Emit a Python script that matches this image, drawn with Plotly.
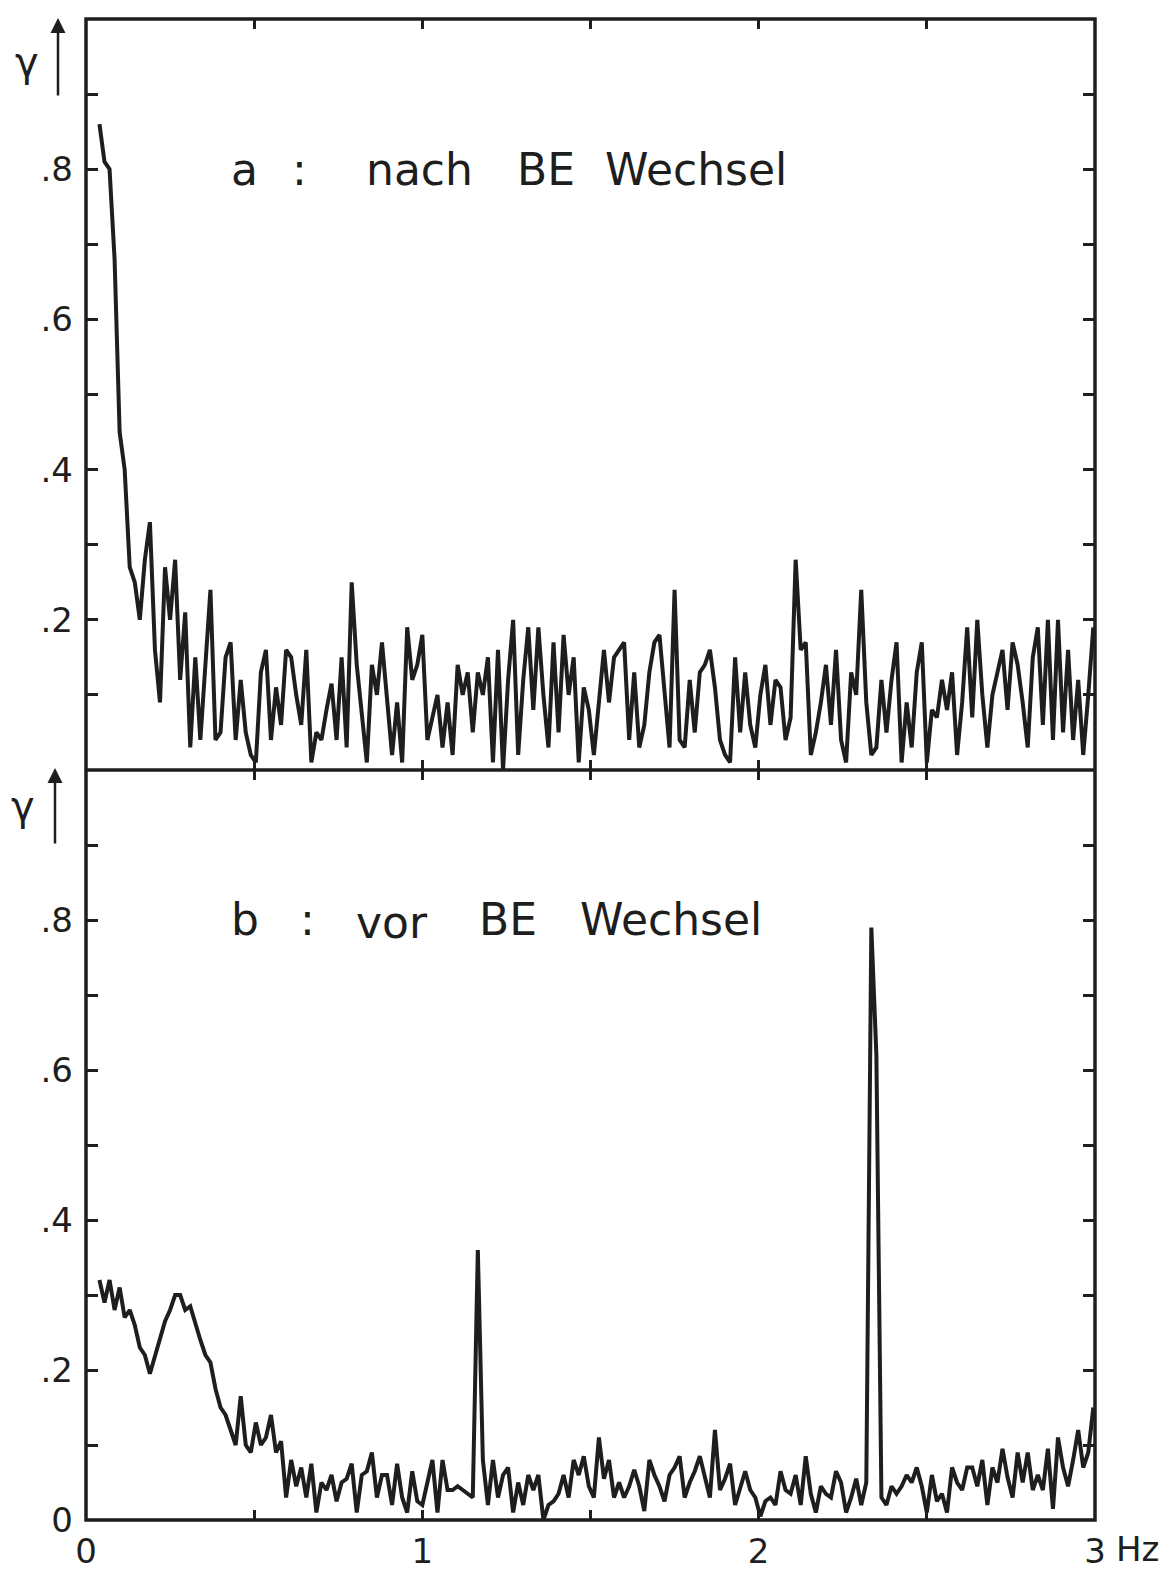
import numpy as np
import plotly.graph_objects as go
from plotly.subplots import make_subplots

# ---------------- data ----------------
f_start = 0.04      # Hz, first sample
f_step = 0.015      # Hz, sample spacing

# panel a: nach BE Wechsel
coh_a = [
    # 0.04 .. 0.295
    0.86, 0.81, 0.80, 0.68, 0.45, 0.40, 0.27, 0.25, 0.20, 0.28,
    0.33, 0.16, 0.09, 0.27, 0.20, 0.28, 0.12, 0.21,
    # 0.31 .. 0.595
    0.03, 0.15, 0.04, 0.15, 0.24, 0.04, 0.05, 0.15, 0.17, 0.04,
    0.12, 0.05, 0.02, 0.01, 0.13, 0.16, 0.04, 0.11, 0.06, 0.16,
    # 0.61 .. 1.825
    0.15, 0.10, 0.06, 0.16, 0.01, 0.05, 0.04, 0.08, 0.115, 0.04,
    0.15, 0.03, 0.25, 0.14, 0.08, 0.01, 0.14, 0.10, 0.17, 0.09,
    0.02, 0.09, 0.01, 0.19, 0.12, 0.14, 0.18, 0.04, 0.07, 0.10,
    0.03, 0.09, 0.02, 0.14, 0.10, 0.13, 0.05, 0.13, 0.10, 0.15,
    0.01, 0.16, 0.00, 0.12, 0.20, 0.02, 0.12, 0.19, 0.08, 0.19,
    0.10, 0.03, 0.17, 0.05, 0.18, 0.10, 0.15, 0.01, 0.11, 0.08,
    0.02, 0.09, 0.16, 0.09, 0.15, 0.16, 0.17, 0.04, 0.13, 0.03,
    0.06, 0.13, 0.17, 0.18, 0.11, 0.03, 0.24, 0.04, 0.03, 0.12,
    0.05, 0.13,
    # 1.84 .. 2.995
    0.14, 0.16, 0.11, 0.04, 0.02, 0.01, 0.15, 0.05, 0.13, 0.06,
    0.03, 0.10, 0.14, 0.06, 0.12, 0.11, 0.04, 0.07, 0.28, 0.16,
    0.17, 0.02, 0.05, 0.09, 0.14, 0.06, 0.16, 0.04, 0.01, 0.13,
    0.10, 0.24, 0.09, 0.02, 0.03, 0.12, 0.05, 0.12, 0.17, 0.01,
    0.09, 0.03, 0.13, 0.17, 0.01, 0.08, 0.07, 0.12, 0.08, 0.13,
    0.02, 0.09, 0.19, 0.07, 0.20, 0.10, 0.03, 0.10, 0.13, 0.16,
    0.08, 0.17, 0.14, 0.09, 0.03, 0.15, 0.19, 0.06, 0.20, 0.04,
    0.20, 0.05, 0.16, 0.04, 0.12, 0.02, 0.10, 0.19,
]

# panel b: vor BE Wechsel
coh_b = [
    # 0.04 .. 1.24
    0.32, 0.29, 0.32, 0.28, 0.31, 0.27, 0.28, 0.26, 0.23, 0.22,
    0.195, 0.22, 0.245, 0.265, 0.28, 0.30, 0.30, 0.28, 0.285, 0.26,
    0.24, 0.22, 0.21, 0.175, 0.15, 0.14, 0.12, 0.10, 0.165, 0.10,
    0.09, 0.13, 0.10, 0.11, 0.14, 0.09, 0.105, 0.03, 0.08, 0.045,
    0.07, 0.03, 0.075, 0.01, 0.05, 0.04, 0.06, 0.025, 0.05, 0.055,
    0.075, 0.01, 0.06, 0.065, 0.09, 0.03, 0.06, 0.06, 0.02, 0.075,
    0.03, 0.01, 0.065, 0.025, 0.02, 0.05, 0.08, 0.01, 0.08, 0.04,
    0.04, 0.045, 0.04, 0.035, 0.03, 0.36, 0.08, 0.02, 0.08, 0.03,
    0.06,
    # 1.255 .. 2.365
    0.07, 0.01, 0.05, 0.02, 0.06, 0.04, 0.06, 0.00, 0.02, 0.025,
    0.035, 0.06, 0.03, 0.08, 0.06, 0.085, 0.045, 0.03, 0.11, 0.055,
    0.08, 0.03, 0.05, 0.03, 0.045, 0.067, 0.045, 0.012, 0.08, 0.06,
    0.045, 0.025, 0.06, 0.07, 0.085, 0.03, 0.05, 0.065, 0.085, 0.06,
    0.03, 0.12, 0.04, 0.055, 0.075, 0.02, 0.045, 0.065, 0.04, 0.03,
    0.005, 0.025, 0.03, 0.02, 0.065, 0.04, 0.035, 0.06, 0.02, 0.085,
    0.035, 0.01, 0.045, 0.035, 0.03, 0.065, 0.05, 0.01, 0.03, 0.055,
    0.02, 0.05, 0.79, 0.62, 0.03,
    # 2.38 .. 2.995
    0.02, 0.045, 0.035, 0.045, 0.06, 0.05, 0.07, 0.045, 0.01, 0.06,
    0.025, 0.035, 0.01, 0.07, 0.05, 0.04, 0.07, 0.07, 0.045, 0.08,
    0.02, 0.07, 0.05, 0.095, 0.057, 0.03, 0.09, 0.05, 0.09, 0.04,
    0.06, 0.04, 0.095, 0.015, 0.11, 0.07, 0.045, 0.08, 0.12, 0.07,
    0.09, 0.15,
]

freq_a = f_start + f_step * np.arange(len(coh_a))
freq_b = f_start + f_step * np.arange(len(coh_b))

y_tickvals = [0.1, 0.2, 0.3, 0.4, 0.5, 0.6, 0.7, 0.8, 0.9]
y_ticktext_a = ["", ".2", "", ".4", "", ".6", "", ".8", ""]
y_tickvals_b = [0.0, 0.1, 0.2, 0.3, 0.4, 0.5, 0.6, 0.7, 0.8, 0.9]
y_ticktext_b = ["0", "", ".2", "", ".4", "", ".6", "", ".8", ""]
x_tickvals = [0, 0.5, 1, 1.5, 2, 2.5, 3]
x_ticktext = ["0", "", "1", "", "2", "", "3"]

# ---------------- figure ----------------
W, H = 1171, 1578
L, R, T, B = 86, 76, 19, 58
INK = "#1e1e1e"
FONT = "DejaVu Sans"

fig = make_subplots(rows=2, cols=1, shared_xaxes=False, vertical_spacing=0)
fig.add_trace(go.Scatter(x=freq_a, y=coh_a, mode="lines",
                         line=dict(color=INK, width=4), showlegend=False), row=1, col=1)
fig.add_trace(go.Scatter(x=freq_b, y=coh_b, mode="lines",
                         line=dict(color=INK, width=4), showlegend=False), row=2, col=1)

split = 750 / (H - T - B)

xcommon = dict(range=[0, 3], showline=False, mirror="ticks", automargin=False,
               ticks="inside", ticklen=10, tickwidth=2.5, tickcolor=INK,
               showgrid=False, zeroline=False, tickvals=x_tickvals)
ycommon = dict(range=[0, 1], showline=False, mirror="ticks", automargin=False,
               ticks="inside", ticklen=12, tickwidth=2.5, tickcolor=INK,
               showgrid=False, zeroline=False, ticklabelstandoff=12,
               tickfont=dict(family=FONT, size=34, color=INK))

fig.update_layout(
    width=W, height=H,
    margin=dict(l=L, r=R, t=T, b=B),
    paper_bgcolor="white", plot_bgcolor="white",
    xaxis=dict(**xcommon, showticklabels=False),
    xaxis2=dict(**xcommon, showticklabels=True, ticktext=x_ticktext,
                ticklabelstandoff=8, tickfont=dict(family=FONT, size=34, color=INK)),
    yaxis=dict(**ycommon, domain=[split, 1], tickvals=y_tickvals, ticktext=y_ticktext_a),
    yaxis2=dict(**ycommon, domain=[0, split], tickvals=y_tickvals_b, ticktext=y_ticktext_b),
)

# frame: outer box and the shared middle line
fig.add_shape(type="rect", xref="paper", yref="paper", x0=0, x1=1, y0=0, y1=1,
              line=dict(color=INK, width=3.5), layer="above")
fig.add_shape(type="line", xref="paper", yref="paper", x0=0, x1=1, y0=split, y1=split,
              line=dict(color=INK, width=3.5), layer="above")


def px_x(px):
    return (px - L) / (W - L - R)


def px_y(py):
    return (H - B - py) / (H - T - B)


def label(text, px, py, size=44, anchor="left"):
    fig.add_annotation(text=text, xref="paper", yref="paper", x=px_x(px), y=px_y(py),
                       xanchor=anchor, yanchor="middle", showarrow=False,
                       font=dict(family=FONT, size=size, color=INK))


# panel titles
label("a", 229, 170)
label(":", 290, 170)
label("nach", 364, 170)
label("BE", 515, 170)
label("Wechsel", 603, 170)

label("b", 229, 920)
label(":", 298, 920)
label("vor", 354, 922)
label("BE", 477, 920)
label("Wechsel", 578, 920)

# axis symbol + arrow
label("γ", 27, 62, size=40, anchor="center")
label("γ", 23, 806, size=40, anchor="center")
for ax_x, head, tail in [(58, 18, 97), (55, 768, 845)]:
    fig.add_annotation(text="", xref="paper", yref="paper", x=px_x(ax_x), y=px_y(head),
                       ax=0, ay=tail - head, showarrow=True, arrowhead=2, arrowsize=1.2,
                       arrowwidth=2.5, arrowcolor=INK)

# unit after the last frequency tick label
label("Hz", 1114, 1549, size=34)

fig.write_html("out.html")
